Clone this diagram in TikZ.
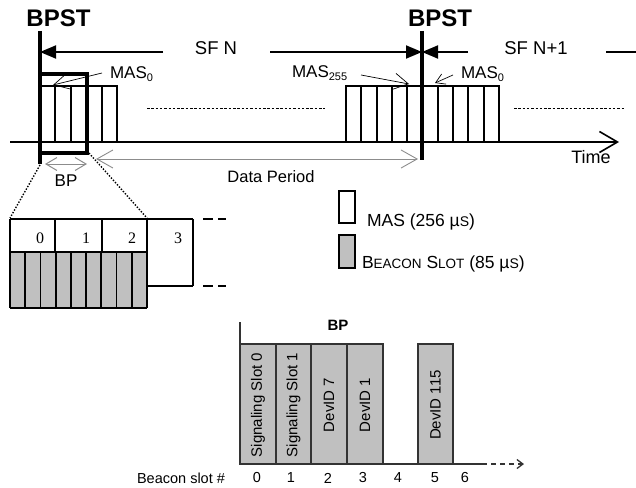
\documentclass[tikz,border=0pt]{standalone}
\usepackage{fontspec}
\setmainfont{Liberation Sans}
\newfontfamily\seriffont{Liberation Serif}
\usetikzlibrary{arrows.meta}
\definecolor{slotgray}{HTML}{C0C0C0}
\definecolor{linegray}{HTML}{8C8C8C}
\definecolor{darkline}{HTML}{333333}
\newcommand\fs[1]{\fontsize{#1}{#1}\selectfont}
\newcommand\lowsub[1]{\raisebox{-0.35ex}{\fs{11}#1}}
\begin{document}
\begin{tikzpicture}[x=1pt,y=-1pt,
  lbl/.style={inner sep=0pt,outer sep=0pt},
  bpstline/.style={line width=3.2pt},
  sfline/.style={line width=1.9pt},
  sfhead/.style={-{Triangle[length=16pt,width=13pt]}},
  mas/.style={line width=2pt},
  barbarrow/.style={line width=0.7pt,-{Straight Barb[length=16pt,width=17pt]}},
  smallbarb/.style={line width=0.7pt,-{Straight Barb[length=9pt,width=11pt]}},
  gapline/.style={line width=0.8pt,dash pattern=on 2.5pt off 1.8pt},
  zl/.style={line width=1.8pt},
  bl/.style={draw=darkline,line width=1.1pt},
  slotbox/.style={draw=darkline,fill=slotgray,line width=1.1pt},
  rot/.style={inner sep=0pt,rotate=90,font=\fs{15}}
]
\useasboundingbox (0,0) rectangle (636,487);

% ---------- top timeline ----------
\node[lbl,font=\bfseries\fs{24}] (bpstL) at (58.5,18) {BPST};
\node[lbl,font=\bfseries\fs{24}] (bpstR) at (440,18) {BPST};

\coordinate (bl1) at (40,31);  \coordinate (bl2) at (40,164);
\coordinate (br1) at (422,31); \coordinate (br2) at (422,160);

% MAS boxes
\foreach \i in {0,...,4} \draw[mas] ({40+\i*15.4},86) rectangle ++(15.4,56);
\foreach \i in {0,...,9} \draw[mas] ({346+\i*15.3},86) rectangle ++(15.3,56);

% gaps
\coordinate (g1a) at (147,108); \coordinate (g1b) at (325,108);
\coordinate (g2a) at (514,108); \coordinate (g2b) at (624,108);
\draw[gapline] (g1a) -- (g1b);
\draw[gapline] (g2a) -- (g2b);

% time axis
\coordinate (t0) at (10,142); \coordinate (t1) at (619,142);
\draw[line width=1.6pt,-{Straight Barb[length=18pt,width=21pt]}] (t0) -- (t1);
\node[lbl,font=\fs{18}] (time) at (591,157) {Time};

% BP box
\draw[line width=3.2pt] (40,74) rectangle (87,153);

% BPST lines
\draw[bpstline] (bl1) -- (bl2);
\draw[bpstline] (br1) -- (br2);

% SF arrows
\node[lbl,font=\fs{18.5}] (sfn) at (216,48) {SF N};
\node[lbl,font=\fs{18.5}] (sfn1) at (536,48) {SF N+1};
\coordinate (sfL) at (40,52); \coordinate (sfA) at (163,52);
\coordinate (sfB) at (270,52); \coordinate (sfR) at (422,52);
\coordinate (sfC) at (468,52); \coordinate (sfD) at (606,52);
\coordinate (sfE) at (636,52);
\draw[sfline,sfhead] (sfA) -- (sfL);
\draw[sfline,sfhead] (sfB) -- (sfR);
\draw[sfline,sfhead] (sfC) -- (sfR);
\draw[sfline] (sfD) -- (sfE);

% MAS labels
\node[lbl,anchor=base west,font=\fs{17}] (mas0L) at (110,78) {MAS\lowsub{0}};
\node[lbl,anchor=base west,font=\fs{17}] (mas255) at (292,77) {MAS\lowsub{255}};
\node[lbl,anchor=base west,font=\fs{17}] (mas0R) at (461,78) {MAS\lowsub{0}};
\coordinate (a1s) at (102,73);  \coordinate (a1e) at (53,85);
\coordinate (a2s) at (361,75);  \coordinate (a2e) at (409,84);
\coordinate (a3s) at (453,75);  \coordinate (a3e) at (435,83);
\draw[barbarrow] (a1s) -- (a1e);
\draw[barbarrow,-{Straight Barb[length=14pt,width=16pt]}] (a2s) -- (a2e);
\draw[smallbarb] (a3s) -- (a3e);

% Data period and BP arrows
\coordinate (dpL) at (96,159); \coordinate (dpR) at (418,159);
\draw[draw=linegray,line width=0.9pt,{Straight Barb[length=16pt,width=18pt]}-{Straight Barb[length=16pt,width=18pt]}] (dpL) -- (dpR);
\node[lbl,font=\fs{16.5}] (dp) at (271,177) {Data Period};
\coordinate (bpL) at (45,164); \coordinate (bpR) at (87,164);
\draw[draw=linegray,line width=1pt,{Straight Barb[length=11pt,width=13pt]}-{Straight Barb[length=11pt,width=13pt]}] (bpL) -- (bpR);
\node[lbl,font=\fs{17}] (bp) at (66,181) {BP};

% zoom lines
\coordinate (z1a) at (40,165); \coordinate (z1b) at (10,218);
\coordinate (z2a) at (89,153); \coordinate (z2b) at (147,218);
\draw[line width=1.4pt,dash pattern=on 1.4pt off 1.6pt] (z1a) -- (z1b);
\draw[line width=1.4pt,dash pattern=on 1.4pt off 1.6pt] (z2a) -- (z2b);

% ---------- zoomed beacon period ----------
\fill[slotgray] (10,252) rectangle (147,308);
\foreach \i in {0,...,9} \draw[zl] ({10+\i*15.222},252) -- ++(0,56);
\draw[zl] (10,308) -- (147,308);
\draw[zl] (10,219) -- (193,219);
\draw[zl] (10,252) -- (147,252);
\foreach \x in {10,55,102,147} \draw[zl] (\x,219) -- (\x,252);
\draw[zl] (147,286) -- (193,286);
\draw[line width=1.2pt] (193,219) -- (193,286);
\draw[zl,dash pattern=on 10pt off 5pt] (203,219) -- (226,219);
\draw[zl,dash pattern=on 10pt off 5pt] (203,286) -- (226,286);
\node[lbl,font=\seriffont\fs{16}] (n0) at (40,238) {0};
\node[lbl,font=\seriffont\fs{16}] (n1) at (86,238) {1};
\node[lbl,font=\seriffont\fs{16}] (n2) at (132,238) {2};
\node[lbl,font=\seriffont\fs{16}] (n3) at (178,238) {3};

% ---------- legend ----------
\draw[line width=1.6pt] (339,191) rectangle (355,223);
\draw[line width=1.6pt,fill=slotgray] (339,235) rectangle (355,268);
\node[lbl,anchor=base west,font=\fs{17.5}] (legmas) at (367,226) {MAS (256 µ{\fs{14}S})};
\node[lbl,anchor=base west,font=\fs{17.5}] (legbs) at (362,268) {B{\fs{13.5}EACON} S{\fs{13.5}LOT} (85 µ{\fs{14}S})};

% ---------- bottom BP diagram ----------
\draw[slotbox] (240,344) rectangle (276,464);
\draw[slotbox] (276,344) rectangle (311,464);
\draw[slotbox] (311,344) rectangle (347,464);
\draw[slotbox] (347,344) rectangle (383,464);
\draw[slotbox] (418,344) rectangle (453,464);
\draw[bl] (240,322) -- (240,464);
\node[lbl,font=\bfseries\fs{15}] (bpB) at (338,325) {BP};
\coordinate (axA) at (240,464); \coordinate (axB) at (482,464);
\coordinate (axC) at (524,464);
\draw[draw=darkline,line width=1.5pt] (axA) -- (axB);
\draw[draw=darkline,line width=1.3pt,dash pattern=on 5pt off 4pt,-{Straight Barb[length=6pt,width=9pt]}] (axB) -- (axC);

\node[rot] (s0) at (258,405) {Signaling Slot 0};
\node[rot] (s1) at (293.5,405) {Signaling Slot 1};
\node[rot] (s2) at (329,405) {DevID 7};
\node[rot] (s3) at (365,405) {DevID 1};
\node[rot] (s5) at (435.5,405) {DevID 115};

\node[lbl,font=\fs{14.5}] (bsl) at (181,478) {Beacon slot \#};
\foreach \x/\n in {257/0,291/1,328/2,363/3,398/4,435/5,465/6}
  \node[lbl,font=\fs{14.5}] (b\n) at (\x,478) {\n};
\end{tikzpicture}
\end{document}
